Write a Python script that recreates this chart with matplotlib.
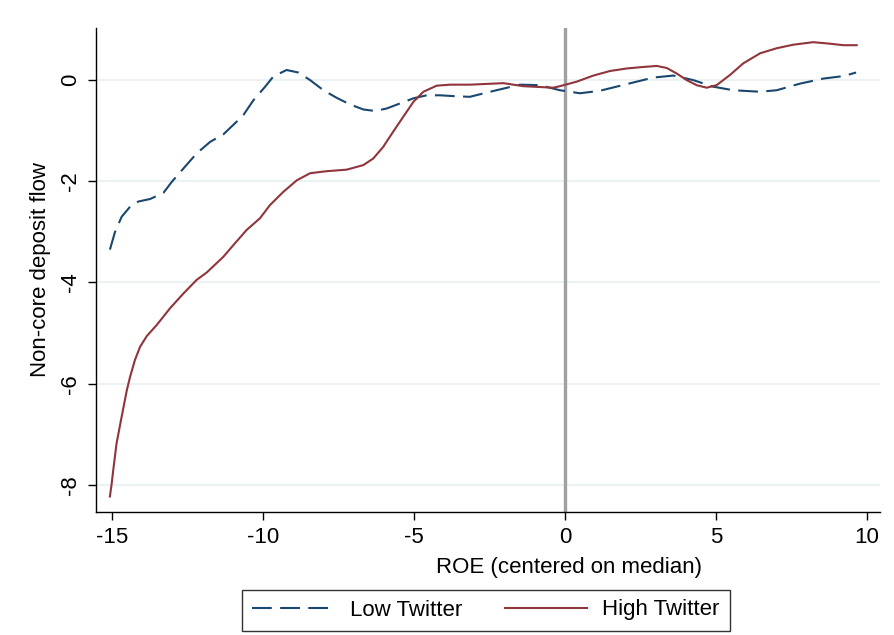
import matplotlib
matplotlib.use("Agg")
import matplotlib.pyplot as plt

plt.rcParams['font.family'] = ['Liberation Sans', 'DejaVu Sans']
plt.rcParams['axes.unicode_minus'] = False

# Low Twitter (dashed blue)
low_x = [-15.07, -14.9, -14.68, -14.4, -14.13, -13.74, -13.3, -13.02, -12.64,
         -12.2, -11.75, -11.31, -10.87, -10.65, -10.32, -9.93, -9.66, -9.22,
         -8.83, -8.44, -8.0, -7.56, -7.12, -6.68, -6.29, -5.9, -5.46, -5.02,
         -4.58, -4.14, -3.59, -3.15, -2.48, -1.49, -0.83, -0.17, 0.5, 1.16,
         2.04, 2.92, 3.59, 4.25, 4.91, 5.57, 6.46, 7.01, 7.78, 8.55, 9.22, 9.64]
low_y = [-3.35, -3.0, -2.70, -2.50, -2.40, -2.35, -2.23, -2.01, -1.75,
         -1.45, -1.22, -1.07, -0.82, -0.69, -0.40, -0.13, 0.07, 0.20,
         0.15, 0.0, -0.20, -0.35, -0.48, -0.58, -0.61, -0.56, -0.46, -0.36,
         -0.30, -0.30, -0.32, -0.33, -0.23, -0.09, -0.1, -0.20, -0.26, -0.21,
         -0.08, 0.05, 0.09, 0.0, -0.13, -0.20, -0.23, -0.20, -0.07, 0.03, 0.08, 0.15]

# High Twitter (solid red)
high_x = [-15.07, -15.01, -14.96, -14.85, -14.68, -14.51, -14.4, -14.24, -14.07,
          -13.85, -13.52, -13.08, -12.64, -12.2, -11.86, -11.31, -10.98, -10.54,
          -10.1, -9.77, -9.33, -8.88, -8.44, -7.89, -7.23, -6.68, -6.35, -6.02,
          -5.69, -5.35, -5.02, -4.69, -4.25, -3.81, -3.15, -2.04, -1.38, -0.39,
          -0.17, 0.39, 0.94, 1.49, 2.04, 2.59, 3.04, 3.37, 3.70, 4.03, 4.36,
          4.69, 5.02, 5.46, 5.90, 6.46, 7.01, 7.56, 8.22, 8.77, 9.22, 9.66]
high_y = [-8.23, -7.97, -7.71, -7.18, -6.65, -6.13, -5.86, -5.53, -5.27,
          -5.06, -4.84, -4.51, -4.22, -3.95, -3.80, -3.49, -3.26, -2.96,
          -2.73, -2.47, -2.21, -1.98, -1.84, -1.80, -1.77, -1.68, -1.55, -1.32,
          -1.02, -0.72, -0.43, -0.23, -0.11, -0.09, -0.09, -0.06, -0.12, -0.15,
          -0.12, -0.03, 0.09, 0.18, 0.23, 0.26, 0.28, 0.24, 0.13, 0.0, -0.10,
          -0.15, -0.10, 0.10, 0.33, 0.53, 0.63, 0.70, 0.75, 0.72, 0.69, 0.69]

x_ticks = [-15, -10, -5, 0, 5, 10]
y_ticks = [0, -2, -4, -6, -8]

fig = plt.figure(figsize=(8.94, 6.35), dpi=100)
ax = fig.add_axes([0.1074, 0.1942, 0.8769, 0.7617])

for yt in y_ticks:
    ax.axhline(yt, color='#eaf2f3', lw=1.5, zorder=0)
ax.axvline(0, color='#a0a0a0', lw=2.4, zorder=1)

ax.plot(low_x, low_y, color='#1a476f', lw=1.5, dashes=(9.5, 4),
        label='Low Twitter', zorder=3)
ax.plot(high_x, high_y, color='#90353b', lw=1.5,
        label='High Twitter', zorder=3)

ax.set_xlim(-15.53, 10.43)
ax.set_ylim(-8.53, 1.03)
ax.set_xticks(x_ticks)
ax.set_yticks(y_ticks)
ax.set_yticklabels([str(v) for v in y_ticks], rotation=90, va='center')

for s in ['top', 'right']:
    ax.spines[s].set_visible(False)
for s in ['left', 'bottom']:
    ax.spines[s].set_linewidth(1.0)
ax.tick_params(direction='out', length=6, width=1.0, labelsize=16, pad=5)

ax.set_xlabel('ROE (centered on median)', fontsize=16, va='center')
ax.set_ylabel('Non-core deposit flow', fontsize=16, va='center')
ax.xaxis.set_label_coords(0.603, -0.1164)
ax.yaxis.set_label_coords(-0.0714, 0.5)

leg = fig.legend(loc='center', bbox_to_anchor=(486 / 894, 1 - 610 / 635),
                 ncol=2, fontsize=16, frameon=True, fancybox=False,
                 edgecolor='black', handlelength=3.7, columnspacing=1.9,
                 borderpad=0.45, handletextpad=0.7, borderaxespad=0)
leg.get_frame().set_linewidth(1.0)

fig.savefig('out.png', dpi=100)
